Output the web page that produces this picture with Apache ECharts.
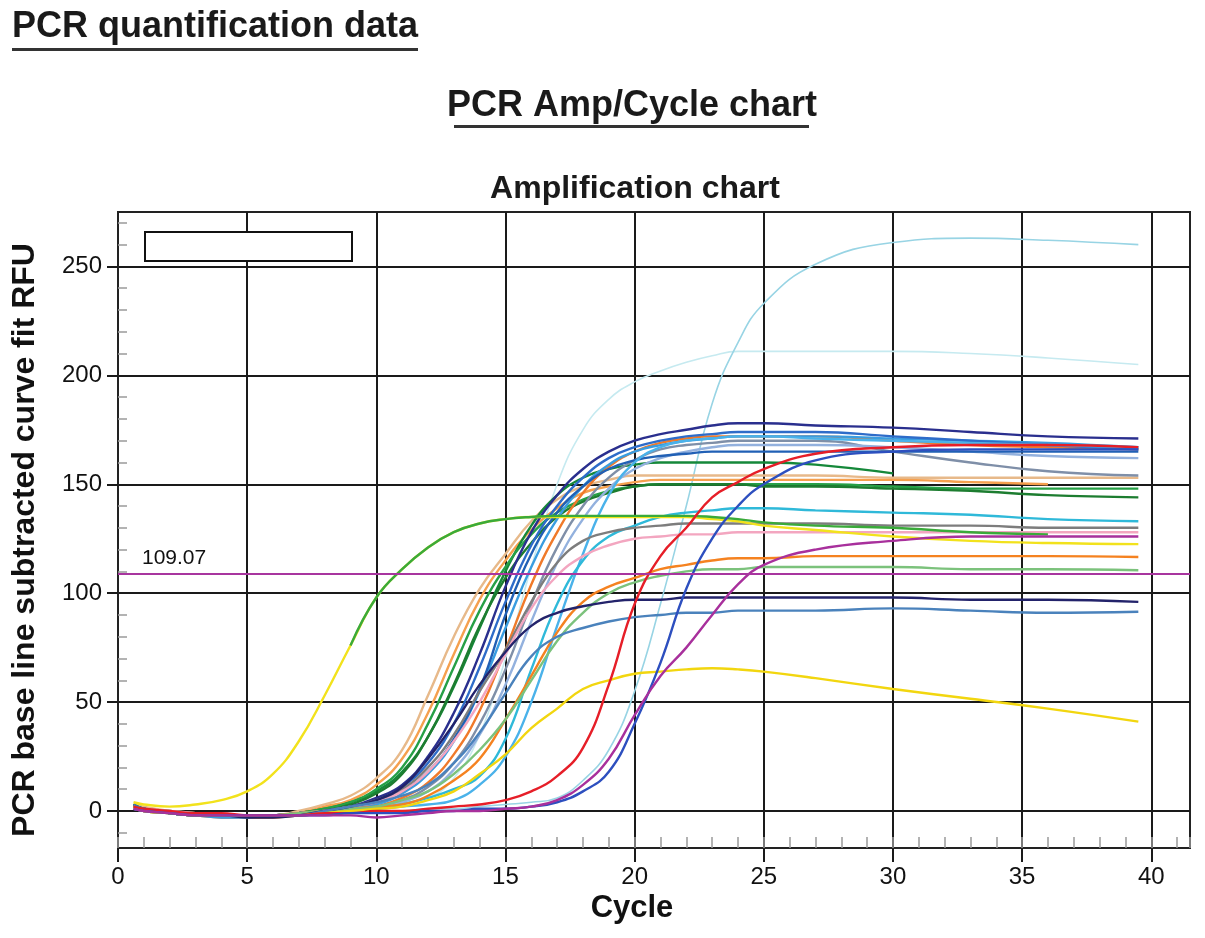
<!DOCTYPE html>
<html><head><meta charset="utf-8">
<script src="https://cdn.jsdelivr.net/npm/echarts@6/dist/echarts.min.js"></script>
<style>html,body{margin:0;padding:0;background:#fff}#c{width:1205px;height:938px}</style>
</head><body><div id="c"></div>
<script>
const cycles = [0.6,1,2,3,4,5,6,7,8,9, 10,11,12,13,14,15,16,17,18,19, 20,21,22,23,24,25,27,30,33,36,39.5];

const navy1       = [2,1,-1,-2,-2,-2,-2,-1,0,2, 6,12,25,45,72,103,128,145,157,165, 170,173,175,177,178,178,177,176,174,172,171];
const blue2       = [3,1,-1,-2,-2,-2,-2,-1,0,2, 5,11,22,40,66,96,122,140,153,162, 167,170,172,173,174,174,174,172,170,168,166];
const lightBlue3  = [2,1,-1,-2,-3,-3,-2,-2,-1,1, 3,8,17,32,55,84,112,134,149,159, 165,168,170,171,172,172,172,171,170,169,167];
const orange4     = [2,0,-1,-2,-3,-3,-3,-2,-1,0, 2,6,13,26,46,74,104,128,146,158, 165,169,171,172,172,172,172,170,168,167,166];
const slate5      = [2,1,-1,-2,-2,-2,-2,-2,-1,0, 2,5,11,22,40,65,95,121,140,153, 161,166,168,169,170,170,170,165,160,156,154];
const steel6      = [1,0,-1,-2,-2,-2,-2,-2,-1,0, 1,4,9,19,35,58,87,114,134,148, 157,162,165,167,168,168,168,167,165,163,162];
const darkGreen7  = [3,1,0,-1,-2,-2,-2,-1,1,4, 9,18,34,57,84,110,131,145,153,157, 159,160,160,160,160,160,159,155,null,null,null];
const tan8        = [3,2,0,-1,-2,-2,-2,0,3,7, 15,28,53,80,102,118,133,143,149,152, 154,154,154,154,154,154,154,153,153,153,153];
const ltOrange9   = [2,1,-1,-2,-2,-3,-3,-1,2,5, 12,24,45,72,97,115,129,139,146,149, 151,152,152,152,152,152,152,152,151,150,null];
const green10     = [2,1,-1,-2,-2,-2,-2,-1,1,4, 10,20,40,66,92,112,127,137,143,147, 149,150,150,150,150,150,150,149,148,148,148];
const green11     = [3,1,-1,-2,-2,-2,-2,-1,0,3, 8,17,34,58,85,107,123,135,142,146, 149,150,150,150,150,149,149,148,147,145,144];
const cyan12      = [2,0,-1,-2,-2,-2,-2,-2,-1,0, 1,3,6,10,16,33,65,95,115,126, 131,135,137,138,139,139,138,137,136,134,133];
const grey13      = [2,1,-1,-2,-2,-2,-2,-1,0,2, 5,10,20,35,55,74,96,114,124,128, 130,131,132,132,132,132,132,131,131,130,130];
const pink14      = [2,1,0,-1,-2,-2,-2,-1,0,2, 4,9,18,32,50,72,93,108,117,122, 125,126,127,127,128,128,128,128,128,128,128];
const yellowEarly = [4,3,2,3,5,9,17,32,53,76, 98,111,121,128,132,134,135,135,135,135, 135,135,135,134,133,131,129,126,124,123,122.5];
const greenEarly  = [null,null,null,null,null,null,null,null,null,76, 98,111,121,128,132,134,135,135.5,135.5,135.5, 135.5,135.5,135.5,135,134,132.5,131,130,128,127,null];
const orange17    = [2,0,-1,-2,-2,-2,-2,-1,0,1, 2,3,7,14,24,42,62,82,96,103, 107,111,113,115,116,116,117,117,117,117,116.6];
const ltGreen18   = [2,1,-1,-2,-2,-2,-2,-1,0,1, 2,5,9,17,28,42,60,78,91,100, 105,108,110,111,111,112,112,112,111,111,110.5];
const navy19      = [2,1,-1,-2,-2,-3,-3,-2,0,2, 5,11,24,40,58,73,85,91,94,96, 97,97,98,98,98,98,98,98,97,97,96];
const steelBlue20 = [2,1,-1,-2,-2,-2,-2,-2,0,2, 4,7,12,22,36,54,71,80,84,87, 89,90,91,91,92,92,92,93,92,91,91.5];
const yellowLow   = [2,0,-1,-2,-2,-2,-2,-2,-1,0, 1,2,5,9,17,26,38,47,56,60, 63,64,65,65.5,65,64,61,56,51.5,47,41];
const red22       = [2,1,0,-1,-1,-2,-2,-2,-1,-1, 0,0,1,2,3,5,9,16,29,58, 95,117,130,144,151,157,164,167,168,168,167];
const blueLate23  = [1,0,-1,-2,-2,-2,-2,-2,-2,-1, -1,-1,0,0,1,1,2,4,9,18, 40,68,102,125,140,150,161,165,166,166,166];
const magenta24   = [1,0,-1,-2,-2,-2,-2,-2,-2,-2, -3,-2,-1,0,0,1,2,5,12,24, 44,62,75,90,104,113,120,124,126,126,126];
const ltCyanHigh  = [2,1,-1,-2,-2,-2,-2,-2,-1,-1, 0,0,1,1,2,3,4,6,14,28, 55,95,140,187,215,233,251,261,263,262,260];
const paleCyan26  = [2,1,-1,-2,-2,-2,-2,-1,0,1, 2,4,6,15,35,70,112,150,175,189, 197,202,206,209,211,211,211,211,210,208,205];
const blueDot27   = [2,1,-1,-2,-2,-2,-2,-1,0,2, 4,9,18,33,56,90,118,137,149,157, 161,163,164,165,165,165,165,165,165,165,165];
const skyBlue28   = [2,1,-1,-2,-2,-2,-2,-2,-1,0, 1,2,3,5,12,25,50,85,118,145, 160,167,170,171,172,172,171,170,169,168,167];

const xTickValues = [0,5,10,15,20,25,30,35,40];
const yTickValues = [0,50,100,150,200,250];
const yMinorValues = [-10,10,20,30,40,60,70,80,90,110,120,130,140,160,170,180,190,210,220,230,240,260,270];
const threshold = 109.07;

const curves = [
  {v: paleCyan26, c:'#c6eaf0', w:1.6},
  {v: ltCyanHigh, c:'#98d4e4', w:1.6},
  {v: tan8, c:'#e7b98a'},
  {v: ltOrange9, c:'#f5a04e'},
  {v: darkGreen7, c:'#15883a'},
  {v: green10, c:'#26a046'},
  {v: green11, c:'#1d7d30'},
  {v: slate5, c:'#7f8fa8'},
  {v: steel6, c:'#93b1de'},
  {v: orange4, c:'#f07a2a'},
  {v: lightBlue3, c:'#3a9de0'},
  {v: blue2, c:'#2e6cc9'},
  {v: blueDot27, c:'#2160b5'},
  {v: navy1, c:'#2a2f8e'},
  {v: skyBlue28, c:'#4ab2ea'},
  {v: cyan12, c:'#2fb9d9'},
  {v: grey13, c:'#7d7d7d'},
  {v: pink14, c:'#f3a6c0'},
  {v: orange17, c:'#f58220'},
  {v: ltGreen18, c:'#7cc27c'},
  {v: navy19, c:'#23236b'},
  {v: steelBlue20, c:'#4a82bc'},
  {v: yellowLow, c:'#f2d60f'},
  {v: yellowEarly, c:'#f2e21c'},
  {v: greenEarly, c:'#3aaa3a'},
  {v: red22, c:'#e61e28'},
  {v: blueLate23, c:'#2d4fbf'},
  {v: magenta24, c:'#a8309c'}
];

function pairs(v){ return cycles.map((c,i)=>[c, v[i]]); }

const series = curves.map(s => ({
  type:'line', data: pairs(s.v), symbol:'none', showSymbol:false,
  smooth:0.45, connectNulls:false, silent:true,
  lineStyle:{color:s.c, width:s.w||2.4}, itemStyle:{color:s.c}
}));
series[series.length-1].markLine = {
  symbol:'none', silent:true, animation:false,
  lineStyle:{color:'#a8359f', width:2, type:'solid'},
  label:{show:true, position:'insideStartTop', formatter:String(threshold), fontSize:21,
         color:'#111', fontFamily:'"Liberation Sans", Arial, sans-serif', distance:[24,5]},
  data:[{yAxis: threshold}]
};

const F = '"Liberation Sans", Arial, sans-serif';
const chart = echarts.init(document.getElementById('c'));
chart.setOption({
  animation:false,
  backgroundColor:'#fff',
  grid:{left:118, right:15, top:212, bottom:90, show:true, borderColor:'#222', borderWidth:2},
  xAxis:[{
    type:'value', min:0, max:41.5, interval:5, position:'bottom',
    axisLine:{show:true, onZero:false, lineStyle:{color:'#222', width:2}},
    axisTick:{show:true, length:14, customValues:xTickValues, lineStyle:{color:'#1a1a1a', width:2}},
    axisLabel:{customValues:xTickValues, fontSize:24, color:'#111', margin:17, fontFamily:F},
    splitLine:{show:true, lineStyle:{color:'#1a1a1a', width:2}}
  },{
    type:'value', min:0, max:41.5, interval:1, position:'bottom',
    axisLine:{show:false, onZero:false},
    axisTick:{show:true, inside:true, length:11, lineStyle:{color:'#9a9a9a', width:1.5}},
    axisLabel:{show:false}, splitLine:{show:false}
  }],
  yAxis:[{
    type:'value', min:-17, max:275, position:'left',
    axisLine:{show:true, onZero:false, lineStyle:{color:'#222', width:2}},
    axisTick:{show:true, length:11, customValues:yTickValues, lineStyle:{color:'#1a1a1a', width:2}},
    axisLabel:{customValues:yTickValues, fontSize:24, color:'#111', margin:16, fontFamily:F},
    splitLine:{show:true, lineStyle:{color:'#1a1a1a', width:2}}
  },{
    type:'value', min:-17, max:275, position:'left',
    axisLine:{show:false, onZero:false},
    axisTick:{show:true, inside:true, length:9, customValues:yMinorValues, lineStyle:{color:'#9a9a9a', width:1.5}},
    axisLabel:{show:false}, splitLine:{show:false}
  }],
  series: series,
  graphic:[
    {type:'text', x:12, y:27, style:{text:'PCR quantification data', font:'bold 36px '+F, fill:'#1a1a1a', textVerticalAlign:'middle'}},
    {type:'rect', shape:{x:12, y:48, width:406, height:3}, style:{fill:'#333'}},
    {type:'text', x:447, y:106, style:{text:'PCR Amp/Cycle chart', font:'bold 36px '+F, fill:'#1a1a1a', textVerticalAlign:'middle'}},
    {type:'rect', shape:{x:454, y:125, width:355, height:3}, style:{fill:'#333'}},
    {type:'text', x:635, y:189, style:{text:'Amplification chart', font:'bold 32px '+F, fill:'#1a1a1a', textAlign:'center', textVerticalAlign:'middle'}},
    {type:'text', x:632, y:908, style:{text:'Cycle', font:'bold 31px '+F, fill:'#111', textAlign:'center', textVerticalAlign:'middle'}},
    {type:'text', x:25, y:540, rotation:Math.PI/2, style:{text:'PCR base line subtracted curve fit RFU', font:'bold 32px '+F, fill:'#111', textAlign:'center', textVerticalAlign:'middle'}},
    {type:'rect', z:100, shape:{x:145, y:232, width:207, height:29}, style:{fill:'#fff', stroke:'#111', lineWidth:2}}
  ]
});
</script></body></html>
